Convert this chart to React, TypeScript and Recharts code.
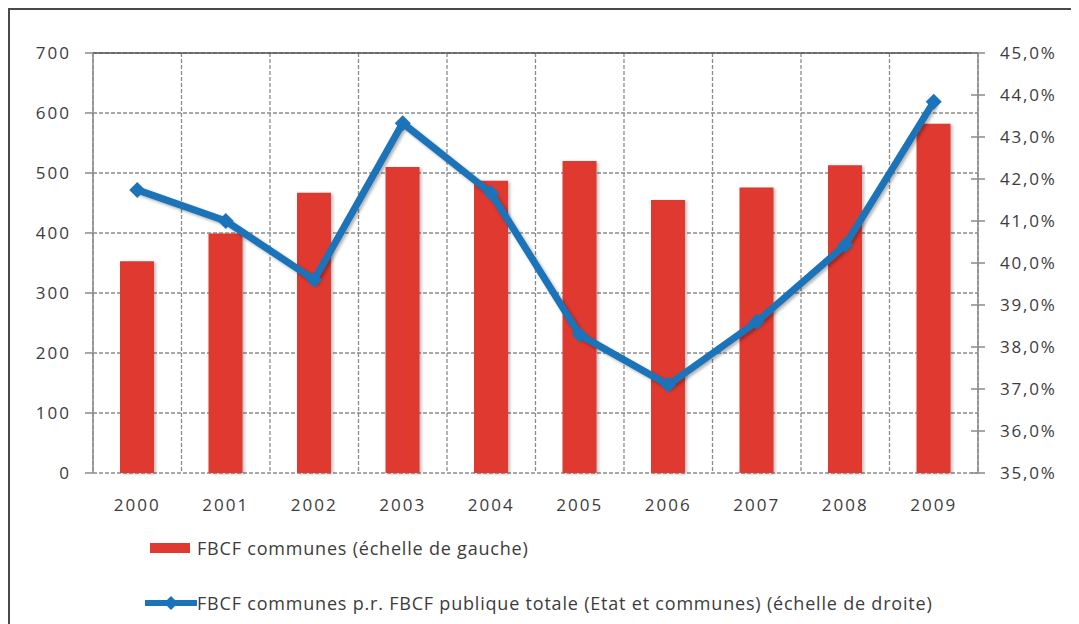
import { ComposedChart, Bar, Line, XAxis, YAxis, CartesianGrid, ReferenceLine } from 'recharts';

const years = ['2000', '2001', '2002', '2003', '2004', '2005', '2006', '2007', '2008', '2009'];
const fbcfCommunes = [353, 399, 467, 510, 487, 520, 455, 476, 513, 582];
const partPublique = [41.74, 41.0, 39.6, 43.33, 41.66, 38.29, 37.1, 38.6, 40.43, 43.84];

const leftTicks = [0, 100, 200, 300, 400, 500, 600, 700];
const rightTicks = [35, 36, 37, 38, 39, 40, 41, 42, 43, 44, 45];
const boundaryTicks = [0, 1, 2, 3, 4, 5, 6, 7, 8, 9, 10];

const RED = '#e0392f';
const BLUE = '#1b74b9';
const TEXT = '#3c3c3c';
const AXIS = '#8a8a8a';
const FONT = '"Open Sans", sans-serif';

// pos = middle of each year's slot on the boundary axis (0..10)
const data = years.map((year, i) => ({
  year,
  pos: i + 0.5,
  fbcf: fbcfCommunes[i],
  part: partPublique[i],
}));

function Diamond(props: any) {
  const { cx, cy } = props;
  if (cx == null || cy == null) return null;
  const r = 8;
  return (
    <path
      d={`M${cx},${cy - r}L${cx + r},${cy}L${cx},${cy + r}L${cx - r},${cy}Z`}
      fill={BLUE}
    />
  );
}

function RightTick(props: any) {
  const { x, y, payload } = props;
  return (
    <g>
      <line x1={x - 7} x2={x + 7} y1={y} y2={y} stroke={AXIS} strokeWidth={1.5} />
      <text x={x + 22} y={y} dy="0.35em" textAnchor="start" fill={TEXT} fontSize={17} fontFamily={FONT} letterSpacing={1.8}>
        {payload.value.toFixed(1).replace('.', ',')}%
      </text>
    </g>
  );
}

const NoLabel = () => <g />;

export default function App() {
  return (
    <div style={{ position: 'relative', width: 1071, height: 616, overflow: 'hidden', background: '#fff', fontFamily: FONT }}>
      <div style={{ position: 'absolute', left: 0, top: 0, width: 1200, height: 700, borderTop: '2px solid #4a4a4a', borderLeft: '2px solid #4a4a4a' }} />
      <div style={{ position: 'absolute', left: 0, top: 0 }}>
        <ComposedChart width={1071} height={616} data={data} margin={{ top: 45, right: 21, left: 25, bottom: 121 }}>
          <CartesianGrid xAxisId="b" yAxisId="left" stroke="#8c8c8c" strokeDasharray="4 2" strokeWidth={1.3} />
          <XAxis
            xAxisId="b"
            dataKey="pos"
            type="number"
            domain={[0, 10]}
            ticks={boundaryTicks}
            interval={0}
            allowDataOverflow
            height={0}
            tick={NoLabel}
            tickSize={6}
            tickLine={{ stroke: AXIS, strokeWidth: 1.5 }}
            axisLine={{ stroke: AXIS, strokeWidth: 1.5 }}
          />
          <XAxis
            xAxisId="cat"
            dataKey="year"
            height={30}
            tickSize={0}
            tickMargin={26}
            axisLine={false}
            tickLine={false}
            tick={{ fill: TEXT, fontSize: 17, fontFamily: FONT, letterSpacing: 2 }}
          />
          <YAxis
            yAxisId="left"
            domain={[0, 700]}
            ticks={leftTicks}
            width={60}
            tickSize={8}
            tickMargin={14}
            axisLine={{ stroke: AXIS, strokeWidth: 1.5 }}
            tickLine={{ stroke: AXIS, strokeWidth: 1.5 }}
            tick={{ fill: TEXT, fontSize: 17, fontFamily: FONT, letterSpacing: 2 }}
          />
          <YAxis
            yAxisId="right"
            orientation="right"
            domain={[35, 45]}
            ticks={rightTicks}
            width={80}
            tickSize={0}
            tickMargin={0}
            tickLine={false}
            axisLine={{ stroke: AXIS, strokeWidth: 1.5 }}
            tick={<RightTick />}
          />
          <ReferenceLine yAxisId="left" xAxisId="cat" y={700} stroke="#555" strokeWidth={1.5} />
          <Bar
            xAxisId="cat"
            yAxisId="left"
            dataKey="fbcf"
            fill={RED}
            barSize={34}
            isAnimationActive={false}
            style={{ filter: 'drop-shadow(2px 1px 1.5px rgba(0,0,0,0.25))' }}
          />
          <Line
            xAxisId="cat"
            yAxisId="right"
            dataKey="part"
            stroke={BLUE}
            strokeWidth={7}
            dot={<Diamond />}
            activeDot={false}
            isAnimationActive={false}
            style={{ filter: 'drop-shadow(2px 2px 1.5px rgba(0,0,0,0.3))' }}
          />
        </ComposedChart>
      </div>
      <div style={{ position: 'absolute', left: 142, top: 525, color: TEXT, fontSize: 18, letterSpacing: 0.8 }}>
        <div style={{ display: 'flex', alignItems: 'center', height: 30 }}>
          <span style={{ display: 'inline-block', width: 40, height: 10, background: RED, marginRight: 7 }} />
          <span>FBCF communes (échelle de gauche)</span>
        </div>
      </div>
      <div style={{ position: 'absolute', left: 137, top: 580, color: TEXT, fontSize: 18, letterSpacing: 0.8 }}>
        <div style={{ display: 'flex', alignItems: 'center', height: 30 }}>
          <svg width={52} height={16}>
            <line x1={0} x2={52} y1={8} y2={8} stroke={BLUE} strokeWidth={6} strokeLinecap="round" />
            <path d="M26,1L33,8L26,15L19,8Z" fill={BLUE} />
          </svg>
          <span>FBCF communes p.r. FBCF publique totale (Etat et communes) (échelle de droite)</span>
        </div>
      </div>
    </div>
  );
}
